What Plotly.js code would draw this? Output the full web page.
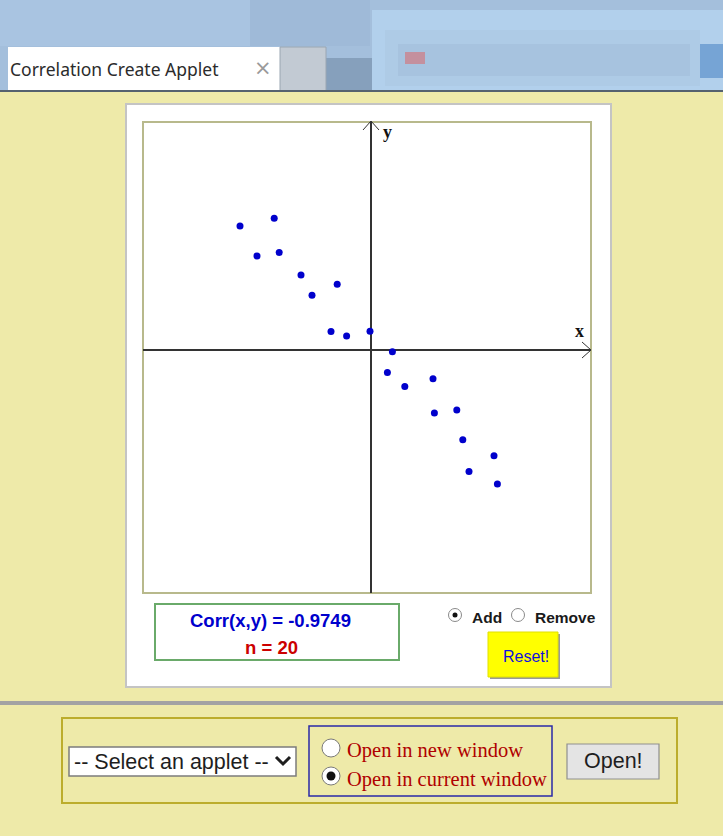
<!DOCTYPE html>
<html><head><meta charset="utf-8">
<script src="https://cdn.plot.ly/plotly-3.0.1.min.js"></script>
<style>html,body{margin:0;padding:0;background:#eeeaa9;overflow:hidden}#chart{width:723px;height:836px}</style>
</head><body><div id="chart"></div>
<script>
// ---- data ----
const xValues = [-6.55,-4.84,-5.70,-4.59,-3.50,-1.69,-2.95,-2.00,-1.22,-0.05,1.07,0.82,1.69,3.10,3.17,4.29,4.59,6.15,4.90,6.32];
const yValues = [6.20,6.59,4.70,4.87,3.75,3.29,2.74,0.92,0.70,0.94,-0.09,-1.12,-1.82,-1.44,-3.15,-3.00,-4.49,-5.29,-6.07,-6.70];
const tabTitle = "Correlation Create Applet";
const corrLabel = "Corr(x,y) = -0.9749";
const nLabel = "n = 20";
const axisLabels = ["x", "y"];
const modeLabels = ["Add", "Remove"];
const resetLabel = "Reset!";
const selectLabel = "-- Select an applet --";
const windowLabels = ["Open in new window", "Open in current window"];
const openLabel = "Open!";

// ---- page geometry (pixels) ----
const PW = 723, PH = 836;
const L = 143, R = 591, T = 122, B = 593;
const X = px => (px - L) / (R - L);
const Y = py => (B - py) / (B - T);

const shapes = [];
function rect(x0, y0, x1, y1, fill, line, lw, layer) {
  shapes.push({type: 'rect', xref: 'paper', yref: 'paper', x0: X(x0), x1: X(x1), y0: Y(y1), y1: Y(y0),
    fillcolor: fill || 'rgba(0,0,0,0)', line: {color: line || 'rgba(0,0,0,0)', width: lw || 0}, layer: layer || 'below'});
}
function circ(cx, cy, r, fill, line, lw, layer) {
  shapes.push({type: 'circle', xref: 'paper', yref: 'paper', x0: X(cx - r), x1: X(cx + r), y0: Y(cy + r), y1: Y(cy - r),
    fillcolor: fill, line: {color: line || 'rgba(0,0,0,0)', width: lw || 0}, layer: layer || 'above'});
}
function poly(pts, color, lw, layer) {
  const d = pts.map((p, i) => (i ? 'L' : 'M') + X(p[0]) + ',' + Y(p[1])).join(' ');
  shapes.push({type: 'path', xref: 'paper', yref: 'paper', path: d, line: {color: color, width: lw}, layer: layer || 'above'});
}
const annotations = [];
function label(px, py, text, size, color, family, weight, xanchor) {
  annotations.push({xref: 'paper', yref: 'paper', x: X(px), y: Y(py), text: text, showarrow: false,
    xanchor: xanchor || 'center', yanchor: 'middle',
    font: {size: size, color: color, family: family, weight: weight || 'normal'}});
}
const SANS = 'Arial, Liberation Sans, sans-serif';
const SERIF = 'Liberation Serif, Times New Roman, serif';

// window chrome
rect(0, 0, PW, 92, '#a4bfdc');
rect(0, 0, 250, 46, '#a9c4e1');
rect(250, 0, 370, 46, '#9fbad8');
rect(372, 10, PW, 92, '#b2d0ec');
rect(385, 30, 700, 86, '#aecbe6');
rect(398, 44, 690, 76, '#a7c3df');
rect(405, 52, 425, 64, '#c4909e');
rect(700, 44, PW, 78, '#76a4d5');
rect(326, 58, 372, 92, '#86a0bc');
rect(8, 47, 280, 91, '#ffffff');
rect(280, 47, 326, 91, '#c2cad3', '#9aa6b2', 1);
rect(0, 90, PW, 92, '#55626f');
label(8, 69, tabTitle, 17.5, '#2b2b2b', 'Noto Sans, Open Sans, sans-serif', 'normal', 'left');
label(263, 68, '×', 21, '#9a9a9a', 'DejaVu Sans, sans-serif');

// white applet panel
rect(126, 104, 611, 687, '#ffffff', '#c4c4c4', 2);

// plot frame and arrows
shapes.push({type: 'rect', xref: 'paper', yref: 'paper', x0: 0, x1: 1, y0: 0, y1: 1,
  line: {color: '#b8b98c', width: 2}, layer: 'below'});
poly([[582, 342], [591, 350], [582, 358]], '#333333', 1);
poly([[363, 130], [371, 121], [379, 130]], '#333333', 1);
label(579, 331, axisLabels[0], 18, '#111111', SERIF, 'bold');
label(387, 132, axisLabels[1], 18, '#111111', SERIF, 'bold');

// correlation box
rect(155, 604, 399, 660, '#ffffff', '#6aaa6a', 2, 'above');
label(270, 620, corrLabel, 18.5, '#0000cc', SANS, 'bold');
label(271, 647, nLabel, 18.5, '#cc0000', SANS, 'bold');

// add / remove radios
circ(455, 615, 6.5, '#ffffff', '#8a8a8a', 1);
circ(455, 615, 2.5, '#111111');
label(470, 617, modeLabels[0], 15.5, '#1a1a1a', SANS, 'bold', 'left');
circ(518, 615, 6.5, '#ffffff', '#8a8a8a', 1);
label(533, 617, modeLabels[1], 15.5, '#1a1a1a', SANS, 'bold', 'left');

// reset button
rect(490, 634, 560, 679, '#9a9a9a', null, 0, 'above');
rect(488, 632, 558, 677, '#ffff00', '#e0e000', 1, 'above');
label(526, 656, resetLabel, 16, '#1010dd', SANS);

// separator
rect(0, 701, PW, 705, '#a3a3a3');

// bottom selector box
rect(62, 718, 677, 803, null, '#bcad2c', 2);
rect(69, 747, 296, 776, '#ffffff', '#7c7c7c', 1.5);
label(72, 762, selectLabel, 21.5, '#1e1e1e', SANS, 'normal', 'left');
poly([[276, 757], [283, 764], [290, 757]], '#1e1e1e', 3);
rect(309, 726, 552, 796, null, '#2a2aa8', 1.5);
circ(331, 748, 9, '#ffffff', '#7a7a7a', 1);
circ(331, 776, 9, '#ffffff', '#7a7a7a', 1);
circ(331, 776, 4.5, '#111111');
label(345, 750, windowLabels[0], 20.5, '#b00000', SERIF, 'normal', 'left');
label(345, 779, windowLabels[1], 20.5, '#b00000', SERIF, 'normal', 'left');
rect(567, 744, 659, 779, '#e4e4e4', '#8f8f8f', 1.2);
label(613, 761, openLabel, 21.5, '#1e1e1e', SANS);

const trace = {
  x: xValues, y: yValues, type: 'scatter', mode: 'markers',
  marker: {color: '#0000cc', size: 7, line: {width: 0}},
  hoverinfo: 'x+y'
};

const axisBase = {showgrid: false, showticklabels: false, ticks: '', showline: false,
  zeroline: true, zerolinecolor: '#333333', zerolinewidth: 2, fixedrange: true};

const layout = {
  width: PW, height: PH,
  margin: {l: L, r: PW - R, t: T, b: PH - B, pad: 0},
  paper_bgcolor: '#eeeaa9', plot_bgcolor: '#ffffff',
  showlegend: false,
  xaxis: Object.assign({}, axisBase, {range: [-11.4, 11.0]}),
  yaxis: Object.assign({}, axisBase, {range: [-12.15, 11.4]}),
  shapes: shapes, annotations: annotations
};

Plotly.newPlot('chart', [trace], layout, {displayModeBar: false, staticPlot: true});
</script>
</body></html>
